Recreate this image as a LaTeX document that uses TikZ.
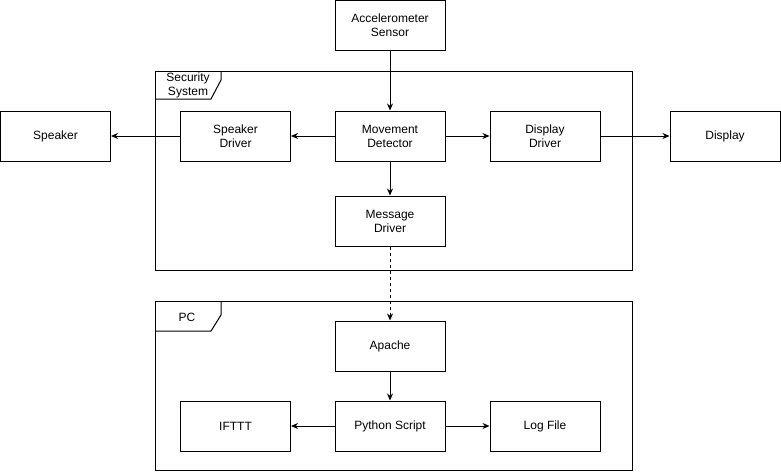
\documentclass[tikz,border=0pt]{standalone}
\usepackage{fontspec}
\setmainfont{Liberation Sans}
\usetikzlibrary{arrows.meta}
\tikzstyle{block}=[rectangle, minimum width=110pt, minimum height=50pt, inner sep=0pt, draw=black, fill=white, align=center, font=\fontsize{12}{14}\selectfont]
\tikzstyle{frame}=[draw=black]
\tikzstyle{tab}=[inner sep=0pt, align=center, font=\fontsize{12}{14}\selectfont]
\tikzstyle{conn}=[-{Stealth[length=7pt, width=6pt]}]

\begin{document}
\begin{tikzpicture}[x=1pt, y=-1pt, line width=1pt]
\useasboundingbox (0, 0) rectangle (781, 471);

% frames
\draw [frame] (155, 71) rectangle (632, 270);
\draw [frame] (155, 99) -- (211, 99) -- (221, 80) -- (221, 71);
\node [tab] (secsys) at (188, 85) {Security\\System};

\draw [frame] (155, 301) rectangle (632, 470);
\draw [frame] (155, 331) -- (211, 331) -- (221, 315) -- (221, 301);
\node [tab] (pc) at (187, 317) {PC};

% blocks
\node [block] (accel) at (390, 25) {Accelerometer\\Sensor};
\node [block] (speaker) at (55.5, 136) {Speaker};
\node [block] (spkdrv) at (235.5, 136) {Speaker\\Driver};
\node [block] (movdet) at (390, 136) {Movement\\Detector};
\node [block] (dispdrv) at (545, 136) {Display\\Driver};
\node [block] (display) at (725, 136) {Display};
\node [block] (msgdrv) at (390, 221) {Message\\Driver};

\node [block] (apache) at (390, 346) {Apache};
\node [block] (ifttt) at (235.5, 426) {IFTTT};
\node [block] (python) at (390, 426) {Python Script};
\node [block] (logfile) at (545, 426) {Log File};

% connectors
\draw [conn] (accel) -- (movdet);
\draw [conn] (movdet) -- (spkdrv);
\draw [conn] (spkdrv) -- (speaker);
\draw [conn] (movdet) -- (dispdrv);
\draw [conn] (dispdrv) -- (display);
\draw [conn] (movdet) -- (msgdrv);
\draw [conn, dashed] (msgdrv) -- (apache);

\draw [conn] (apache) -- (python);
\draw [conn] (python) -- (ifttt);
\draw [conn] (python) -- (logfile);

\end{tikzpicture}
\end{document}
